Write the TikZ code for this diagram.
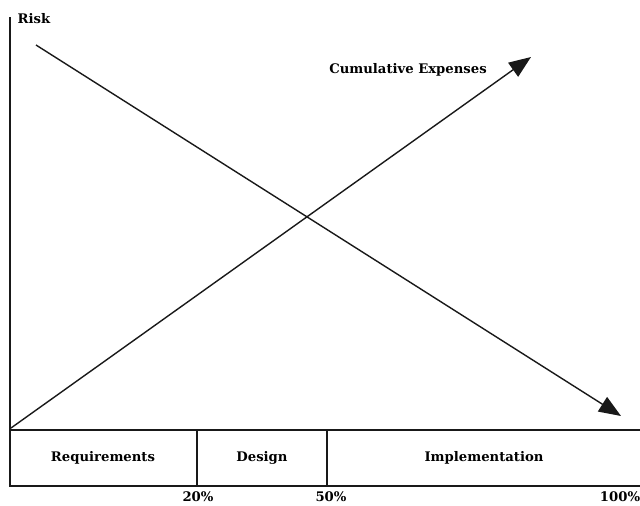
\documentclass[tikz,border=0pt]{standalone}
\usepackage{fontspec}
\setmainfont{DejaVu Serif}
\usetikzlibrary{arrows.meta}
\begin{document}
\begin{tikzpicture}[x=1pt,y=-1pt,
  lbl/.style={font=\bfseries\fontsize{13.2}{15}\selectfont, inner sep=0pt},
  ln/.style={line width=1.4pt, draw=black!90},
  arr/.style={ln, -{Triangle[length=22pt,width=17pt]}}]
\useasboundingbox (0,0) rectangle (640,506);
% axis and phase box
\coordinate (ytop) at (10,17);
\coordinate (orig) at (10,430);
\draw[ln] (ytop) -- (orig);
\draw[ln] (10,430) rectangle (641,486);
\draw[ln] (197,430) -- (197,486);
\draw[ln] (327,430) -- (327,486);
\node[lbl] (risk) at (34,19) {Risk};
\node[lbl] (req) at (103,458) {Requirements};
\node[lbl] (des) at (262,458) {Design};
\node[lbl] (imp) at (484,458) {Implementation};
\node[lbl] (p20) at (198,497) {20\%};
\node[lbl] (p50) at (331,497) {50\%};
\node[lbl] (p100) at (620,497) {100\%};
% curves
\coordinate (rs) at (36,45);
\coordinate (re) at (621,416);
\coordinate (cs) at (11,428);
\coordinate (ce) at (531,57);
\draw[arr] (rs) -- (re);
\draw[arr] (cs) -- (ce);
\node[lbl] (cum) at (408,70) {Cumulative Expenses};
\end{tikzpicture}
\end{document}
